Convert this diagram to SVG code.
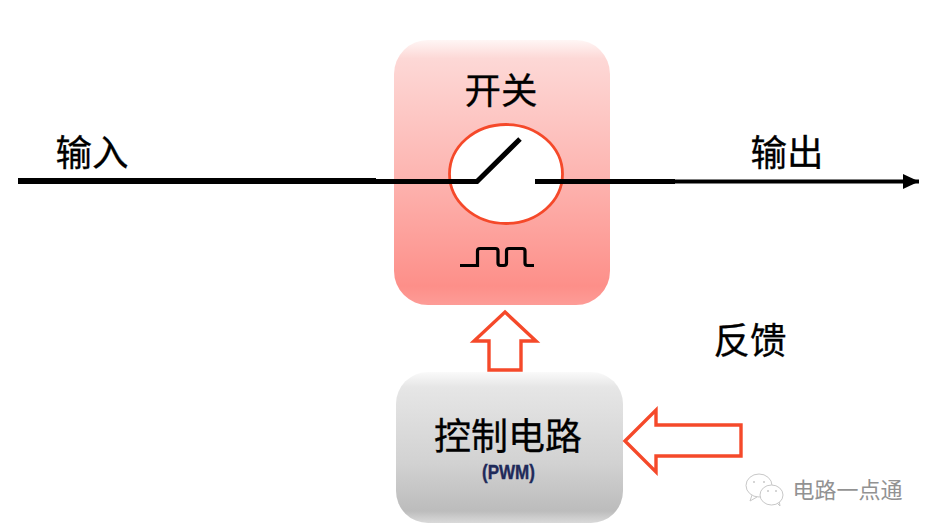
<svg xmlns="http://www.w3.org/2000/svg" width="934" height="532" viewBox="0 0 934 532">
<style>
text{font-family:"Noto Sans CJK SC","Liberation Sans",sans-serif;fill:#000;text-anchor:middle}
.big{font-size:36.500px;stroke:#000;stroke-width:.3}
.fat{fill:#fff;stroke:#f5492a;stroke-width:3.400;stroke-linejoin:miter}
.wire{fill:none;stroke:#000}
.ic{fill:#fff;stroke:#c8c8c8;stroke-width:1}
.eye{fill:#c8c8c8}
</style>
<defs>
<linearGradient id="pink" x1="0" y1="0" x2="0" y2="1"><stop offset="0" stop-color="#fff6f5"/><stop offset="0.07" stop-color="#fdd8d6"/><stop offset="0.5" stop-color="#fdb6b2"/><stop offset="0.93" stop-color="#fd8f89"/><stop offset="1" stop-color="#fd9c97"/></linearGradient>
<linearGradient id="grey" x1="0" y1="0" x2="0" y2="1"><stop offset="0" stop-color="#fafafa"/><stop offset="0.1" stop-color="#e6e6e6"/><stop offset="0.6" stop-color="#d2d2d2"/><stop offset="0.92" stop-color="#bcbcbc"/><stop offset="1" stop-color="#dadada"/></linearGradient>
<marker id="head" markerUnits="userSpaceOnUse" markerWidth="18" markerHeight="18" refX="16" refY="9" orient="auto"><path d="M0 1.500L16 9L0 16.500z" fill="#000"/></marker>
</defs>
<rect width="934" height="532" fill="#fff"/>
<g id="switch">
<rect x="394" y="40" width="216" height="265" rx="34" fill="url(#pink)"/>
<text class="big" x="501" y="104">开关</text>
</g>
<g id="control">
<rect x="396" y="372" width="227" height="151" rx="32" fill="url(#grey)"/>
<text class="big" x="508" y="450" style="font-size:37px">控制电路</text>
<text x="508.500" y="479" textLength="53" lengthAdjust="spacingAndGlyphs" style="font-size:19.500px;font-weight:700;fill:#1f2a5a;stroke:#1f2a5a;stroke-width:.4;font-family:'Liberation Sans','Noto Sans CJK SC',sans-serif">(PWM)</text>
</g>
<g id="labels">
<text class="big" x="92" y="166">输入</text>
<text class="big" x="787" y="166">输出</text>
<text class="big" x="750" y="354">反馈</text>
</g>
<g id="connectors">
<ellipse cx="506" cy="174" rx="56.500" ry="49.500" fill="#fff" stroke="#f5492a" stroke-width="2.800"/>
<path class="wire" stroke-width="6" d="M18 181H376"/>
<path class="wire" stroke-width="5" d="M376 181.500H477L520 139"/>
<path class="wire" stroke-width="5" d="M535 181.500H675"/>
<path class="wire" stroke-width="4.200" d="M675 181.500H919" marker-end="url(#head)"/>
<path d="M460 265.500H477.500V251Q477.500 248.500 480 248.500H495.500Q498 248.500 498 251V263Q498 265.500 500.500 265.500H504Q506.500 265.500 506.500 263V251Q506.500 248.500 509 248.500H522.500Q525 248.500 525 251V263Q525 265.500 527.500 265.500H534" fill="none" stroke="#000" stroke-width="3.200"/>
<path class="fat" d="M505 312L536 341H521V370H489V341H474z"/>
<path class="fat" d="M625 441L656 410V425H741V456H656V472z"/>
</g>
<g id="watermark">
<path class="ic" d="M752 495L750 501L757 497"/>
<ellipse class="ic" cx="759" cy="485.500" rx="13" ry="11.500"/>
<circle class="eye" cx="754" cy="482" r="1"/><circle class="eye" cx="764" cy="482" r="1"/>
<path class="ic" d="M776 502L780 506L779 500"/>
<ellipse class="ic" cx="771.500" cy="495" rx="11.500" ry="10"/>
<circle class="eye" cx="768" cy="491" r="1"/><circle class="eye" cx="776" cy="491" r="1"/>
<text x="847.500" y="498" style="font-size:22px;fill:#929292">电路一点通</text>
</g>
</svg>
